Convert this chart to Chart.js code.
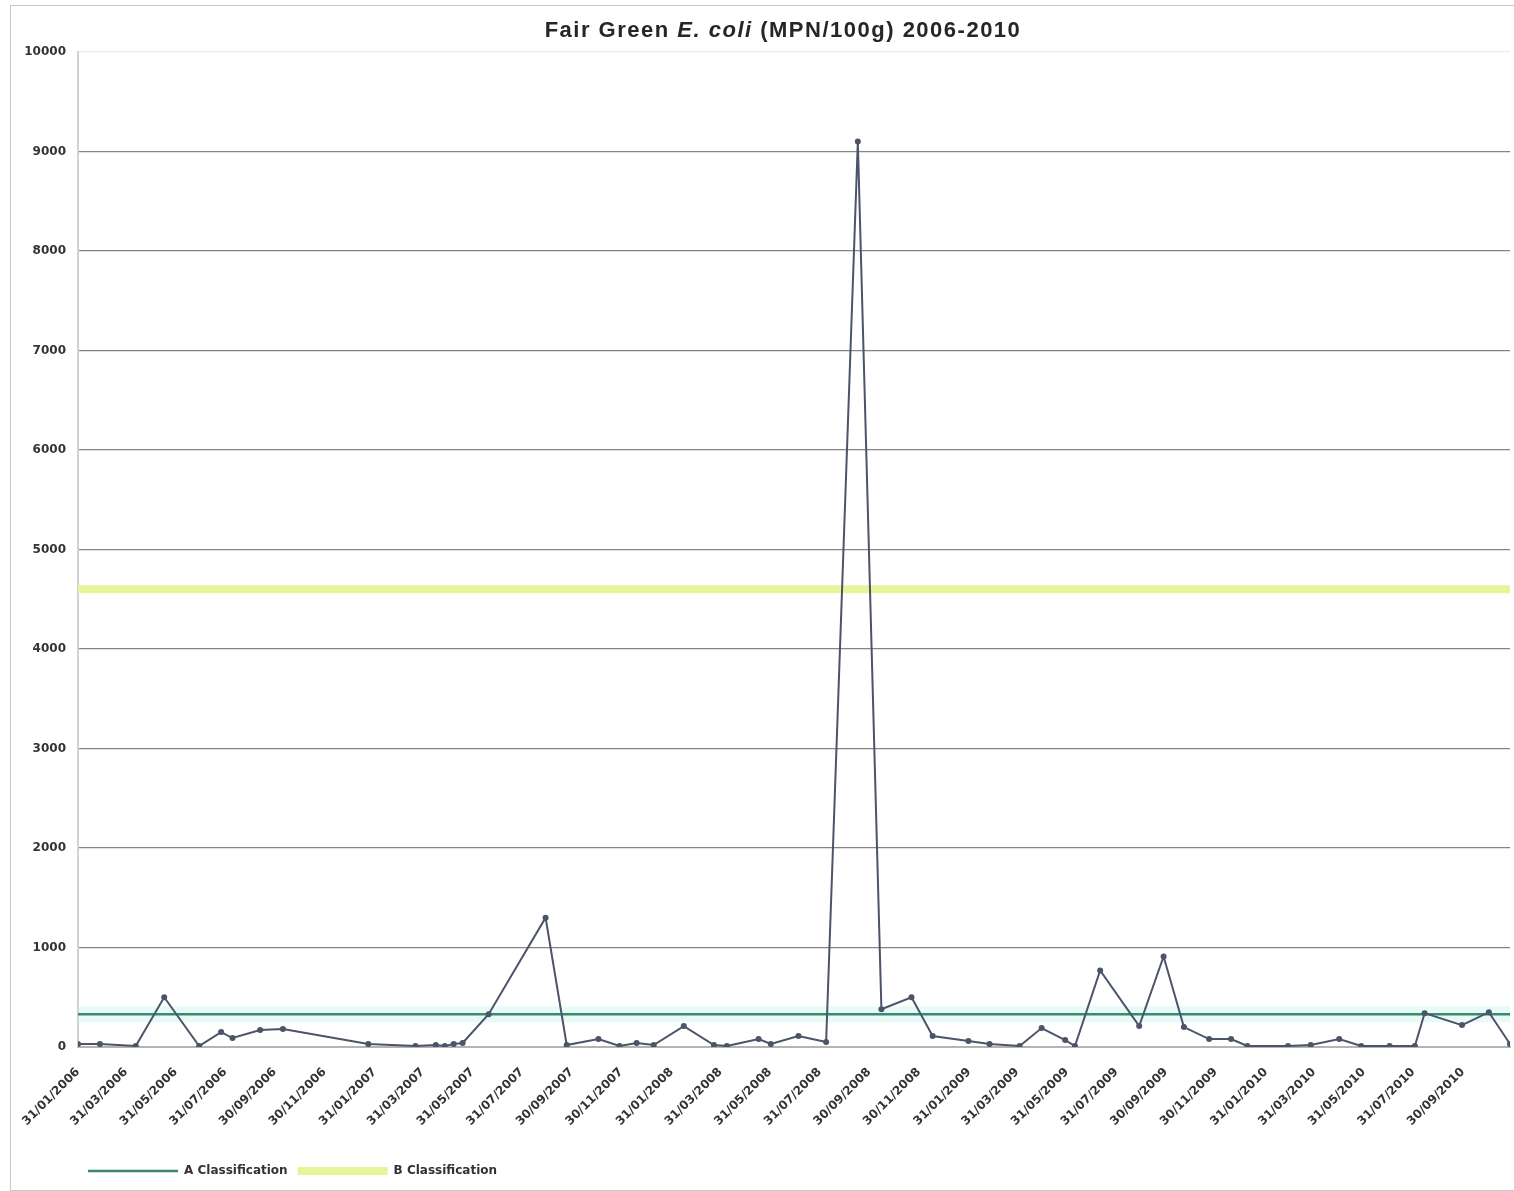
<!DOCTYPE html>
<html>
<head>
<meta charset="utf-8">
<script src="https://cdn.jsdelivr.net/npm/chart.js@4.4.0/dist/chart.umd.min.js"></script>
<style>
  html, body { margin: 0; padding: 0; background: #fff; }
  #frame { position: absolute; left: 10px; top: 5px; width: 1510px; height: 1184px; border-left: 1px solid #c8c8c8; border-top: 1px solid #c8c8c8; border-bottom: 1px solid #c8c8c8; }
  #wrap { position: absolute; left: 0; top: 0; width: 1514px; height: 1191px; }
  #title { position: absolute; left: 52px; top: 17px; width: 1462px; text-align: center; letter-spacing: 1.5px;
           font: bold 22px "Liberation Sans", Arial, sans-serif; color: #262626; }
</style>
</head>
<body>
<div id="frame"></div>
<div id="wrap"><canvas id="myChart"></canvas></div>
<div id="title">Fair Green <i>E. coli</i> (MPN/100g) 2006-2010</div>
<script>
// sampling dates and E. coli results (MPN/100g)
var sampleDates = [
  '31/01/2006','27/02/2006','12/04/2006','17/05/2006','29/06/2006','26/07/2006','09/08/2006','12/09/2006','10/10/2006',
  '23/01/2007','22/03/2007','16/04/2007','27/04/2007','08/05/2007','19/05/2007','20/06/2007','29/08/2007','24/09/2007',
  '02/11/2007','28/11/2007','19/12/2007',
  '09/01/2008','15/02/2008','23/03/2008','08/04/2008','17/05/2008','01/06/2008','05/07/2008','08/08/2008','16/09/2008',
  '15/10/2008','21/11/2008','17/12/2008',
  '30/01/2009','25/02/2009','03/04/2009','30/04/2009','29/05/2009','10/06/2009','11/07/2009','28/08/2009','27/09/2009',
  '22/10/2009','22/11/2009','19/12/2009',
  '08/01/2010','27/02/2010','27/03/2010','01/05/2010','28/05/2010','02/07/2010','02/08/2010','14/08/2010','29/09/2010',
  '01/11/2010','27/11/2010'
];
var ecoliValues = [
  30,30,10,500,10,150,90,170,180,
  30,10,20,10,30,40,330,1300,20,
  80,10,40,
  20,210,20,10,80,30,110,50,9100,
  380,500,110,
  60,30,10,190,70,10,770,210,910,
  200,80,80,
  10,10,20,80,10,10,10,340,220,
  350,30
];
var tickLabels = [
  '31/01/2006','31/03/2006','31/05/2006','31/07/2006','30/09/2006','30/11/2006',
  '31/01/2007','31/03/2007','31/05/2007','31/07/2007','30/09/2007','30/11/2007',
  '31/01/2008','31/03/2008','31/05/2008','31/07/2008','30/09/2008','30/11/2008',
  '31/01/2009','31/03/2009','31/05/2009','31/07/2009','30/09/2009','30/11/2009',
  '31/01/2010','31/03/2010','31/05/2010','31/07/2010','30/09/2010'
];
var classA = 330;
var classB = 4600;
var yTicks = [0,1000,2000,3000,4000,5000,6000,7000,8000,9000,10000];

function dayNum(s) {
  var p = s.split('/').map(Number);
  return (Date.UTC(p[2], p[1] - 1, p[0]) - Date.UTC(2006, 0, 31)) / 86400000;
}

var xMin = dayNum(sampleDates[0]);
var xMax = dayNum(sampleDates[sampleDates.length - 1]);
var points = sampleDates.map(function(d, i) { return {x: dayNum(d), y: ecoliValues[i]}; });

var config = {
  type: 'line',
  data: {
    datasets: [{
      label: 'Fair Green',
      data: points,
      borderColor: '#4b5468',
      backgroundColor: '#4b5468',
      borderWidth: 2,
      pointRadius: 3,
      pointBorderWidth: 0,
      order: 0
    }, {
      label: 'A Classification',
      data: [{x: xMin, y: classA}, {x: xMax, y: classA}],
      borderColor: '#3b8a6e',
      backgroundColor: '#3b8a6e',
      borderWidth: 2.5,
      pointRadius: 0,
      order: 1
    }, {
      label: 'B Classification',
      data: [{x: xMin, y: classB}, {x: xMax, y: classB}],
      borderColor: '#e6f59a',
      backgroundColor: '#e6f59a',
      borderWidth: 8,
      pointRadius: 0,
      order: 2
    }, {
      label: 'A glow',
      data: [{x: xMin, y: classA}, {x: xMax, y: classA}],
      borderColor: 'rgba(185,240,232,0.35)',
      borderWidth: 16,
      pointRadius: 0,
      order: 3
    }]
  },
  options: {
    animation: false,
    responsive: true,
    maintainAspectRatio: false,
    layout: {padding: {left: 10, right: 4, top: 52, bottom: 4}},
    plugins: {
      title: {display: false},
      tooltip: {enabled: false},
      legend: {
        position: 'bottom',
        align: 'start',
        fullSize: false,
        labels: {
          usePointStyle: true,
          pointStyle: 'line',
          pointStyleWidth: 90,
          padding: 10,
          color: '#333',
          font: {family: 'DejaVu Sans', size: 12, weight: 'bold'},
          filter: function(item) { return item.text.indexOf('Classification') > 0; }
        }
      }
    },
    scales: {
      x: {
        type: 'linear',
        min: xMin,
        max: xMax,
        afterBuildTicks: function(scale) {
          scale.ticks = tickLabels.map(function(t) { return {value: dayNum(t)}; });
        },
        afterFit: function(scale) { scale.height = 108; },
        grid: {display: false, drawTicks: false},
        border: {display: true, color: '#b4b4b4', width: 2},
        ticks: {
          autoSkip: false,
          minRotation: 45,
          maxRotation: 45,
          padding: 18,
          color: '#333',
          font: {family: 'DejaVu Sans', size: 12, weight: 'bold'},
          callback: function(v, i) { return tickLabels[i]; }
        }
      },
      y: {
        min: 0,
        max: 10000,
        afterBuildTicks: function(scale) {
          scale.ticks = yTicks.map(function(v) { return {value: v}; });
        },
        afterFit: function(scale) { scale.width = 68; },
        grid: {
          drawTicks: false,
          lineWidth: 1.3,
          color: function(c) {
            if (c.tick.value === 10000) return '#ececec';
            if (c.tick.value === 0) return 'rgba(0,0,0,0)';
            return '#858585';
          }
        },
        border: {display: true, color: '#d2d2d2', width: 2},
        ticks: {
          padding: 12,
          color: '#333',
          font: {family: 'DejaVu Sans', size: 12, weight: 'bold'},
          callback: function(v) { return String(v); }
        }
      }
    }
  }
};

window.onload = function() {
  var ctx = document.getElementById('myChart').getContext('2d');
  window.myChart = new Chart(ctx, config);
};
</script>
</body>
</html>
